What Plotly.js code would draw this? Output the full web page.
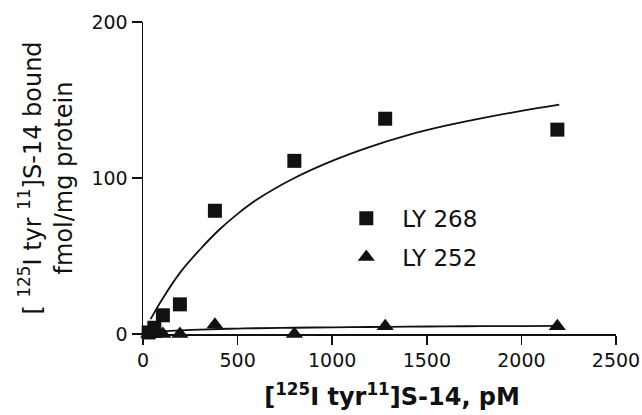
<!DOCTYPE html>
<html>
<head>
<meta charset="utf-8">
<script src="https://cdn.plot.ly/plotly-3.0.1.min.js"></script>
<style>
  html, body { margin: 0; padding: 0; background: #fff; }
  #chart { width: 642px; height: 415px; }
</style>
</head>
<body>
<div id="chart"></div>
<script>
// Concentration of [125I tyr11]S-14 (pM) and specific binding (fmol/mg protein)
const ly268X = [30, 60, 105, 195, 380, 800, 1280, 2190];
const ly268Y = [1, 4, 12, 19, 79, 111, 138, 131];
const ly252X = [30, 60, 105, 195, 380, 800, 1280, 2190];
const ly252Y = [0, 0, 0, 0, 6, 0, 5, 5];

// Fitted saturation curves
const fitX = [40, 100, 200, 300, 400, 500, 600, 800, 1000, 1200, 1400, 1600, 1800, 2000, 2200];
const fit268Y = [9.5, 22, 40, 54, 66.5, 77, 86, 100, 111, 120, 127.5, 133.5, 138.5, 143, 147];
const fit252Y = [1, 1.6, 2.3, 2.8, 3.2, 3.5, 3.7, 4.0, 4.3, 4.5, 4.7, 4.9, 5.0, 5.1, 5.2];

const xTicks = [0, 500, 1000, 1500, 2000, 2500];
const yTicks = [0, 100, 200];
const seriesNames = ['LY 268', 'LY 252'];

const FONT = 'DejaVu Sans, Liberation Sans, Arial, sans-serif';

const traces = [
  {x: fitX, y: fit268Y, mode: 'lines', line: {color: '#111', width: 1.8, shape: 'spline'},
   showlegend: false, hoverinfo: 'skip', cliponaxis: false},
  {x: fitX, y: fit252Y, mode: 'lines', line: {color: '#111', width: 1.8, shape: 'spline'},
   showlegend: false, hoverinfo: 'skip', cliponaxis: false},
  {x: ly268X, y: ly268Y, mode: 'markers', name: seriesNames[0], legendgroup: 'a',
   marker: {symbol: 'square', size: 14, color: '#111'}, cliponaxis: false},
  {x: ly252X, y: ly252Y, mode: 'markers', name: seriesNames[1], legendgroup: 'b',
   marker: {symbol: 'triangle-up', size: 15, color: '#111'}, cliponaxis: false}
];

const layout = {
  width: 642, height: 415,
  margin: {l: 143, r: 26, t: 22, b: 81},
  paper_bgcolor: '#fff', plot_bgcolor: '#fff',
  font: {family: FONT, color: '#111'},
  showlegend: true,
  legend: {
    x: 0.396, y: 0.44, xanchor: 'left', yanchor: 'top',
    bgcolor: 'rgba(0,0,0,0)', font: {family: FONT, size: 23, color: '#111'},
    itemwidth: 62, tracegroupgap: 6, traceorder: 'grouped'
  },
  xaxis: {
    range: [0, 2500], tickvals: xTicks, ticktext: xTicks.map(String),
    showline: true, linecolor: '#111', linewidth: 1.5,
    ticks: 'outside', ticklen: 9, tickwidth: 1.5, tickcolor: '#111',
    showgrid: false, zeroline: false,
    tickfont: {family: FONT, size: 19, color: '#111'},
    title: {text: '&nbsp;&nbsp;&nbsp;[<sup>125</sup>I tyr<sup>11</sup>]S-14, pM',
            font: {family: FONT, size: 24, color: '#111', weight: 'bold'}, standoff: 18}
  },
  yaxis: {
    range: [0, 200], tickvals: yTicks, ticktext: yTicks.map(String),
    showline: true, linecolor: '#111', linewidth: 1.5,
    ticks: 'outside', ticklen: 10, tickwidth: 1.5, tickcolor: '#111',
    showgrid: false, zeroline: false,
    tickfont: {family: FONT, size: 19, color: '#111'},
    title: {text: '[ <sup>125</sup>I tyr <sup>11</sup>]S-14 bound<br>fmol/mg protein',
            font: {family: FONT, size: 24, color: '#111'}, standoff: 12}
  }
};

Plotly.newPlot('chart', traces, layout, {displayModeBar: false, staticPlot: true});
</script>
</body>
</html>
